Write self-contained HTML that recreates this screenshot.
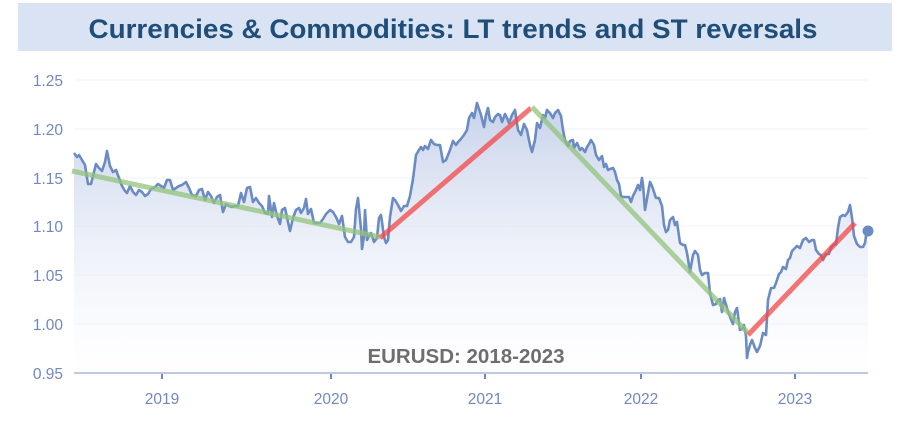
<!DOCTYPE html>
<html><head><meta charset="utf-8"><style>
html,body{margin:0;padding:0;background:#fff;width:902px;height:422px;overflow:hidden}
svg{display:block;font-family:"Liberation Sans",Arial,sans-serif}
</style></head><body>
<svg width="902" height="422" viewBox="0 0 902 422" xmlns="http://www.w3.org/2000/svg">
<defs>
<linearGradient id="g" gradientUnits="userSpaceOnUse" x1="0" y1="100" x2="0" y2="373">
<stop offset="0" stop-color="#c6d1ea" stop-opacity="1"/>
<stop offset="1" stop-color="#ffffff" stop-opacity="0.4"/>
</linearGradient>
</defs>
<rect x="18" y="3" width="874" height="48" fill="#dae3f3"/>
<text x="453" y="38" text-anchor="middle" font-size="27" font-weight="bold" fill="#1f4e79" textLength="729" lengthAdjust="spacingAndGlyphs">Currencies &amp; Commodities: LT trends and ST reversals</text>
<g stroke="#eef0f6" stroke-width="1">
<line x1="74" y1="80" x2="868" y2="80"/><line x1="74" y1="129" x2="868" y2="129"/>
<line x1="74" y1="178" x2="868" y2="178"/><line x1="74" y1="226" x2="868" y2="226"/>
<line x1="74" y1="275" x2="868" y2="275"/><line x1="74" y1="324" x2="868" y2="324"/>
</g>
<g fill="#7088bf" font-size="15.5" text-anchor="end">
<text x="63" y="86">1.25</text><text x="63" y="135">1.20</text><text x="63" y="184">1.15</text>
<text x="63" y="232">1.10</text><text x="63" y="281">1.05</text><text x="63" y="330">1.00</text>
<text x="63" y="379">0.95</text>
</g>
<path fill="url(#g)" stroke="none" d="M74,153 L77,157 79,155 82,160 85,165 88,184 91,184 94,172 96,164 99,168 102,171 105,162 107,151 110,166 113,172 116,170 119,178 122,186 125,191 127,193 130,186 133,192 136,195 139,190 142,192 145,196 148,194 151,189 155,187 158,184 161,186 164,188 167,180 170,180 173,190 176,188 179,186 182,185 186,182 189,188 192,195 196,196 199,190 202,189 205,200 208,192 211,196 214,203 217,197 220,195 223,212 226,204 229,206 232,207 235,206 238,206 241,193 244,202 247,188 250,187 253,202 256,198 259,203 262,206 265,213 268,214 269,196 272,217 274,203 277,216 280,224 282,210 285,208 288,222 290,231 293,218 296,210 299,208 301,213 304,208 306,199 308,214 311,209 314,223 317,223 320,223 323,219 326,214 328,212 330,210 333,212 336,217 339,224 342,216 345,237 348,242 351,242 354,237 356,209 358,198 361,229 362,249 364,236 365,210 367,240 369,236 371,233 374,242 377,238 379,218 381,215 382,222 384,237 386,243 388,240 390,217 393,198 395,200 398,205 401,211 404,206 407,206 410,196 413,179 416,155 419,150 421,147 423,150 425,146 428,149 431,140 434,144 437,145 440,145 443,162 446,160 450,150 453,141 456,145 458,142 460,140 464,135 467,130 469,118 472,113 474,118 477,103 481,115 484,127 486,115 488,108 490,120 493,122 495,117 498,114 500,115 502,122 505,114 507,118 509,123 512,115 515,110 518,130 521,135 524,124 527,130 530,145 532,152 535,140 537,123 540,128 543,115 545,118 547,110 550,113 553,118 555,113 558,110 561,116 563,130 565,140 568,146 570,141 573,140 574,148 577,143 580,150 582,148 585,152 587,147 589,144 591,140 594,145 596,155 599,160 602,156 604,167 606,164 608,170 610,169 613,168 615,172 617,180 619,184 621,196 623,197 626,197 629,197 631,202 633,196 636,190 638,185 640,190 642,178 643,185 645,210 648,193 650,182 652,186 656,198 659,198 662,206 664,225 666,232 668,230 670,220 673,217 675,225 677,222 680,243 683,245 685,245 687,253 690,272 693,255 695,251 698,255 700,270 702,275 705,273 708,273 710,293 713,305 716,304 718,300 720,299 722,312 724,298 727,308 730,317 733,324 735,312 737,308 740,330 743,328 744,325 746,336 747,358 748,352 750,345 752,340 755,348 757,352 760,346 763,333 766,335 768,300 771,288 774,288 776,283 779,274 781,272 783,267 786,269 788,260 790,258 792,251 794,249 797,246 800,248 803,240 806,238 809,242 812,240 814,240 816,250 819,254 821,255 823,260 826,254 829,254 831,247 833,245 836,244 838,228 840,217 843,215 845,216 848,212 850,205 852,218 854,236 857,244 860,247 863,247 865,243 867,229 868,226 L868,373 L74,373 Z"/>
<polyline fill="none" stroke="#6b8bc3" stroke-width="2.6" stroke-linejoin="round" points="74,153 77,157 79,155 82,160 85,165 88,184 91,184 94,172 96,164 99,168 102,171 105,162 107,151 110,166 113,172 116,170 119,178 122,186 125,191 127,193 130,186 133,192 136,195 139,190 142,192 145,196 148,194 151,189 155,187 158,184 161,186 164,188 167,180 170,180 173,190 176,188 179,186 182,185 186,182 189,188 192,195 196,196 199,190 202,189 205,200 208,192 211,196 214,203 217,197 220,195 223,212 226,204 229,206 232,207 235,206 238,206 241,193 244,202 247,188 250,187 253,202 256,198 259,203 262,206 265,213 268,214 269,196 272,217 274,203 277,216 280,224 282,210 285,208 288,222 290,231 293,218 296,210 299,208 301,213 304,208 306,199 308,214 311,209 314,223 317,223 320,223 323,219 326,214 328,212 330,210 333,212 336,217 339,224 342,216 345,237 348,242 351,242 354,237 356,209 358,198 361,229 362,249 364,236 365,210 367,240 369,236 371,233 374,242 377,238 379,218 381,215 382,222 384,237 386,243 388,240 390,217 393,198 395,200 398,205 401,211 404,206 407,206 410,196 413,179 416,155 419,150 421,147 423,150 425,146 428,149 431,140 434,144 437,145 440,145 443,162 446,160 450,150 453,141 456,145 458,142 460,140 464,135 467,130 469,118 472,113 474,118 477,103 481,115 484,127 486,115 488,108 490,120 493,122 495,117 498,114 500,115 502,122 505,114 507,118 509,123 512,115 515,110 518,130 521,135 524,124 527,130 530,145 532,152 535,140 537,123 540,128 543,115 545,118 547,110 550,113 553,118 555,113 558,110 561,116 563,130 565,140 568,146 570,141 573,140 574,148 577,143 580,150 582,148 585,152 587,147 589,144 591,140 594,145 596,155 599,160 602,156 604,167 606,164 608,170 610,169 613,168 615,172 617,180 619,184 621,196 623,197 626,197 629,197 631,202 633,196 636,190 638,185 640,190 642,178 643,185 645,210 648,193 650,182 652,186 656,198 659,198 662,206 664,225 666,232 668,230 670,220 673,217 675,225 677,222 680,243 683,245 685,245 687,253 690,272 693,255 695,251 698,255 700,270 702,275 705,273 708,273 710,293 713,305 716,304 718,300 720,299 722,312 724,298 727,308 730,317 733,324 735,312 737,308 740,330 743,328 744,325 746,336 747,358 748,352 750,345 752,340 755,348 757,352 760,346 763,333 766,335 768,300 771,288 774,288 776,283 779,274 781,272 783,267 786,269 788,260 790,258 792,251 794,249 797,246 800,248 803,240 806,238 809,242 812,240 814,240 816,250 819,254 821,255 823,260 826,254 829,254 831,247 833,245 836,244 838,228 840,217 843,215 845,216 848,212 850,205 852,218 854,236 857,244 860,247 863,247 865,243 867,229"/>
<g stroke-width="5" stroke-linecap="butt" opacity="0.75">
<line x1="72" y1="171" x2="380" y2="237" stroke="#93c47d"/>
<line x1="380" y1="238" x2="531" y2="108" stroke="#f44848"/>
<line x1="532" y1="107" x2="748" y2="333" stroke="#93c47d"/>
<line x1="748" y1="335" x2="855" y2="223" stroke="#f44848"/>
</g>
<circle cx="868" cy="231" r="5.5" fill="#6b8bc3"/>
<line x1="74" y1="373" x2="868" y2="373" stroke="#a9b8dc" stroke-width="1.5"/>
<g stroke="#7088bf" stroke-width="2">
<line x1="162" y1="374" x2="162" y2="379"/><line x1="331" y1="374" x2="331" y2="379"/>
<line x1="485" y1="374" x2="485" y2="379"/><line x1="641" y1="374" x2="641" y2="379"/>
<line x1="795" y1="374" x2="795" y2="379"/>
</g>
<g fill="#7088bf" font-size="15.5" text-anchor="middle">
<text x="162" y="404">2019</text><text x="331" y="404">2020</text><text x="485" y="404">2021</text>
<text x="641" y="404">2022</text><text x="795" y="404">2023</text>
</g>
<text x="466" y="363" text-anchor="middle" font-size="20.5" font-weight="bold" fill="#6e6e6e">EURUSD: 2018-2023</text>
</svg>
</body></html>
